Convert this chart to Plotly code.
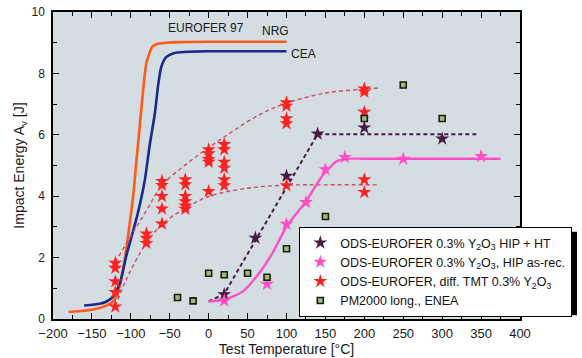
import plotly.graph_objects as go

# ---------------- data ----------------
# EUROFER 97 reference curves
nrg_T = [-180, -160, -140, -130, -123, -117, -110, -106, -102, -97, -93, -89, -85, -80, -72, -64, -54, -40, 0, 50, 100]
nrg_E = [0.23, 0.27, 0.36, 0.45, 0.57, 0.84, 1.6, 2.25, 3.0, 4.0, 5.1, 6.16, 7.25, 8.34, 8.88, 8.97, 9.0, 9.02, 9.03, 9.03, 9.03]
cea_T = [-160, -140, -131, -123, -114, -106, -99, -91, -82, -76, -69, -65, -61, -55, -45, -30, 0, 50, 100]
cea_E = [0.44, 0.5, 0.57, 0.73, 1.17, 2.04, 2.69, 3.45, 4.53, 5.62, 6.72, 7.6, 8.2, 8.52, 8.66, 8.7, 8.72, 8.72, 8.72]

# ODS-EUROFER diff. TMT: measured points and upper / lower fit curves
tmt_T = [-120] * 5 + [-80] * 3 + [-60] * 5 + [-30] * 6 + [0] * 5 + [20] * 6 + [100] * 5 + [200] * 5
tmt_E = [1.82, 1.66, 1.22, 0.87, 0.40,
         2.78, 2.64, 2.47,
         4.49, 4.36, 4.0, 3.59, 3.1,
         4.54, 4.38, 4.0, 3.83, 3.69, 3.58,
         5.52, 5.39, 5.2, 5.11, 4.16,
         5.69, 5.52, 5.11, 4.92, 4.54, 4.35,
         7.05, 6.94, 6.53, 6.37, 4.35,
         7.5, 7.4, 6.74, 4.54, 4.13]
tmt_up_T = [-120, -100, -80, -60, -30, 0, 30, 65, 100, 150, 200, 220]
tmt_up_E = [1.85, 2.7, 3.53, 4.35, 5.02, 5.58, 6.1, 6.65, 7.03, 7.36, 7.49, 7.53]
tmt_lo_T = [-120, -106, -80, -60, -30, 0, 50, 100, 150, 220]
tmt_lo_E = [0.41, 1.28, 2.48, 3.08, 3.61, 3.99, 4.26, 4.36, 4.37, 4.37]

# ODS-EUROFER HIP + HT
ht_T = [20, 60, 100, 140, 200, 300]
ht_E = [0.8, 2.64, 4.66, 6.03, 6.23, 5.87]
ht_fit_T = [0, 20, 140, 345]
ht_fit_E = [0.57, 0.82, 6.02, 6.02]

# ODS-EUROFER HIP as-rec.
ar_T = [20, 75, 100, 125, 150, 175, 250, 350]
ar_E = [0.6, 1.14, 3.09, 3.8, 4.87, 5.27, 5.21, 5.3]
ar_fit_T = [0, 20, 44, 65, 82, 100, 125, 147, 164, 177, 200, 375]
ar_fit_E = [0.57, 0.63, 0.9, 1.5, 2.15, 3.01, 3.83, 4.7, 5.13, 5.22, 5.22, 5.22]

# PM2000 long., ENEA
pm_T = [-40, -20, 0, 20, 50, 75, 100, 150, 200, 250, 300]
pm_E = [0.7, 0.59, 1.49, 1.44, 1.49, 1.36, 2.29, 3.34, 6.53, 7.62, 6.53]

names = ["ODS-EUROFER 0.3% Y<sub>2</sub>O<sub>3</sub> HIP + HT",
         "ODS-EUROFER 0.3% Y<sub>2</sub>O<sub>3</sub>, HIP as-rec.",
         "ODS-EUROFER, diff. TMT 0.3% Y<sub>2</sub>O<sub>3</sub>",
         "PM2000 long., ENEA"]

FONT = "Liberation Sans, Arial, sans-serif"
C_NRG = "#ff5a1a"
C_CEA = "#1c2a8c"
C_HT = "#4a1a44"
C_AR = "#ff4fc4"
C_TMT = "#ff2222"
C_TMTFIT = "#d4486a"

fig = go.Figure()

# curves
fig.add_trace(go.Scatter(x=nrg_T, y=nrg_E, mode="lines", line=dict(color=C_NRG, width=2.6, shape="spline", smoothing=0.6), showlegend=False))
fig.add_trace(go.Scatter(x=cea_T, y=cea_E, mode="lines", line=dict(color=C_CEA, width=2.6, shape="spline", smoothing=0.6), showlegend=False))
fig.add_trace(go.Scatter(x=tmt_up_T, y=tmt_up_E, mode="lines", line=dict(color=C_TMTFIT, width=1.4, dash="4px,3px", shape="spline"), showlegend=False))
fig.add_trace(go.Scatter(x=tmt_lo_T, y=tmt_lo_E, mode="lines", line=dict(color=C_TMTFIT, width=1.4, dash="4px,3px", shape="spline"), showlegend=False))
fig.add_trace(go.Scatter(x=ht_fit_T, y=ht_fit_E, mode="lines", line=dict(color=C_HT, width=2, dash="4px,3px"), showlegend=False))
fig.add_trace(go.Scatter(x=ar_fit_T, y=ar_fit_E, mode="lines", line=dict(color=C_AR, width=2.4, shape="spline", smoothing=0.6), showlegend=False))

# markers
fig.add_trace(go.Scatter(x=ht_T, y=ht_E, mode="markers", name=names[0],
                         marker=dict(symbol="star", size=10.5, color=C_HT, line=dict(width=0))))
fig.add_trace(go.Scatter(x=ar_T, y=ar_E, mode="markers", name=names[1],
                         marker=dict(symbol="star", size=10.5, color=C_AR, line=dict(width=0))))
fig.add_trace(go.Scatter(x=tmt_T, y=tmt_E, mode="markers", name=names[2],
                         marker=dict(symbol="star", size=10.5, color=C_TMT, line=dict(width=0))))
fig.add_trace(go.Scatter(x=pm_T, y=pm_E, mode="markers", name=names[3],
                         marker=dict(symbol="square", size=6, color="#9fba7c", line=dict(width=1.6, color="#14200c"))))

# labels on the EUROFER curves
fig.add_annotation(x=-3, y=9.49, text="EUROFER 97", showarrow=False, font=dict(family=FONT, size=12, color="#1a1a1a"))
fig.add_annotation(x=86, y=9.39, text="NRG", showarrow=False, font=dict(family=FONT, size=12, color="#1a1a1a"))
fig.add_annotation(x=122, y=8.62, text="CEA", showarrow=False, font=dict(family=FONT, size=12, color="#1a1a1a"))

# legend shadow
fig.add_shape(type="rect", xref="paper", yref="paper", x0=0.54, x1=1.122, y0=0.012, y1=0.284,
              fillcolor="black", line=dict(width=0), layer="above")

fig.update_layout(
    width=582, height=358,
    margin=dict(l=53, r=62, t=12, b=39, autoexpand=False),
    paper_bgcolor="white",
    plot_bgcolor="#d3dde2",
    font=dict(family=FONT, color="#1a1a1a"),
    legend=dict(x=0.527, y=0.30, xanchor="left", yanchor="top",
                bgcolor="white", bordercolor="black", borderwidth=1.2,
                font=dict(family=FONT, size=12.5, color="#111"),
                tracegroupgap=0, itemwidth=30),
    showlegend=True,
)
fig.update_xaxes(range=[-200, 400], dtick=50, tick0=-200, ticks="inside", ticklen=6, tickwidth=1.2,
                 tickcolor="black", showline=True, linecolor="black", linewidth=1.5, mirror="ticks",
                 showgrid=False, zeroline=False, ticklabelstandoff=2,
                 minor=dict(dtick=25, ticks="inside", ticklen=4, tickcolor="black", showgrid=False),
                 tickfont=dict(family=FONT, size=13, color="#1a1a1a"),
                 title=dict(text="Test Temperature [°C]", font=dict(family=FONT, size=14, color="#1a1a1a"), standoff=1))
fig.update_yaxes(range=[0, 10], dtick=2, ticks="inside", ticklen=6, tickwidth=1.2,
                 tickcolor="black", showline=True, linecolor="black", linewidth=1.5, mirror="ticks",
                 showgrid=False, zeroline=False, ticklabelstandoff=4,
                 minor=dict(dtick=1, ticks="inside", ticklen=4, tickcolor="black", showgrid=False),
                 tickfont=dict(family=FONT, size=12, color="#1a1a1a"),
                 title=dict(text="Impact Energy A<sub>v</sub> [J]", font=dict(family=FONT, size=14, color="#1a1a1a"), standoff=4))

# remove the browser's default 8 px body margin so the figure fills the window exactly
fig.write_html("out.html", config={"displayModeBar": False},
               post_script="document.body.style.margin='0';")
